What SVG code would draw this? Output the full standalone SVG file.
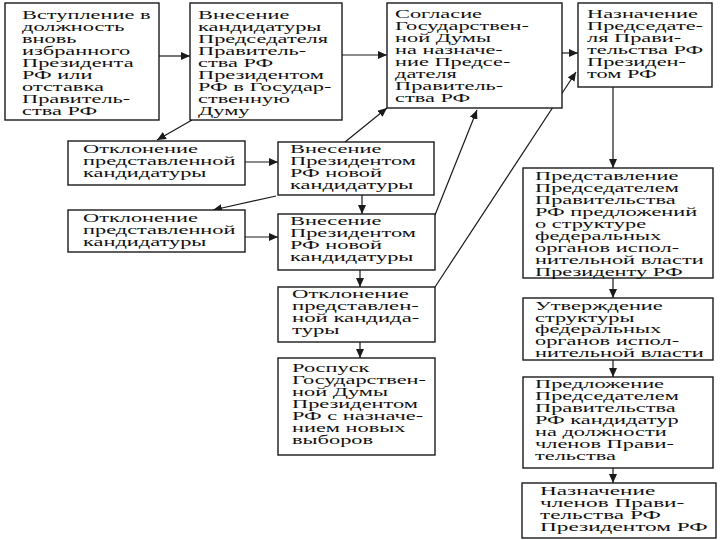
<svg xmlns="http://www.w3.org/2000/svg" width="720" height="540" viewBox="0 0 720 540">
<style>
.box{fill:#fff;stroke:#1a1a1a;stroke-width:1.4}
.t{font-family:"Liberation Serif","Times New Roman",serif;font-size:12.5px;fill:#111}
.c{stroke:#1a1a1a;stroke-width:1.2;fill:none;marker-end:url(#ah)}
</style>
<defs>
<marker id="ah" markerUnits="userSpaceOnUse" markerWidth="10" markerHeight="8" refX="9" refY="4" orient="auto">
<path d="M0,0 L9,4 L0,8 Z" fill="#1a1a1a"/>
</marker>
</defs>
<rect width="720" height="540" fill="#fff"/>
<g id="connectors">
<line class="c" x1="159" y1="56" x2="190" y2="56"/>
<line class="c" x1="342" y1="55" x2="387" y2="55"/>
<line class="c" x1="562" y1="53" x2="578" y2="53"/>
<line class="c" x1="613" y1="87" x2="613" y2="168"/>
<line class="c" x1="613" y1="278" x2="613" y2="298"/>
<line class="c" x1="613" y1="360" x2="613" y2="377"/>
<line class="c" x1="613" y1="468" x2="613" y2="483"/>
<line class="c" x1="192" y1="120" x2="157" y2="140"/>
<line class="c" x1="245" y1="162" x2="278" y2="162"/>
<line class="c" x1="345" y1="142" x2="387" y2="108"/>
<line class="c" x1="276" y1="196" x2="213" y2="210"/>
<line class="c" x1="362" y1="195" x2="362" y2="214"/>
<line class="c" x1="245" y1="237" x2="278" y2="237"/>
<line class="c" x1="435" y1="215" x2="477" y2="110"/>
<line class="c" x1="360" y1="270" x2="360" y2="287"/>
<line class="c" x1="435" y1="287" x2="576" y2="72"/>
<line class="c" x1="360" y1="342" x2="360" y2="358"/>
</g>
<g id="n1"><rect class="box" x="5" y="3" width="154" height="117"/>
<text class="t" transform="translate(22,18.5) scale(1.79,1)"><tspan x="0" y="0">Вступление в</tspan><tspan x="0" y="12.1">должность</tspan><tspan x="0" y="24.2">вновь</tspan><tspan x="0" y="36.3">избранного</tspan><tspan x="0" y="48.4">Президента</tspan><tspan x="0" y="60.5">РФ или</tspan><tspan x="0" y="72.6">отставка</tspan><tspan x="0" y="84.7">Правитель-</tspan><tspan x="0" y="96.8">ства РФ</tspan></text></g>
<g id="n2"><rect class="box" x="190" y="3" width="152" height="117"/>
<text class="t" transform="translate(198,18.5) scale(1.79,1)"><tspan x="0" y="0">Внесение</tspan><tspan x="0" y="12.1">кандидатуры</tspan><tspan x="0" y="24.2">Председателя</tspan><tspan x="0" y="36.3">Правитель-</tspan><tspan x="0" y="48.4">ства РФ</tspan><tspan x="0" y="60.5">Президентом</tspan><tspan x="0" y="72.6">РФ в Государ-</tspan><tspan x="0" y="84.7">ственную</tspan><tspan x="0" y="96.8">Думу</tspan></text></g>
<g id="n3"><rect class="box" x="387" y="3" width="175" height="105"/>
<text class="t" transform="translate(395,18) scale(1.79,1)"><tspan x="0" y="0">Согласие</tspan><tspan x="0" y="12">Государствен-</tspan><tspan x="0" y="24">ной Думы</tspan><tspan x="0" y="36">на назначе-</tspan><tspan x="0" y="48">ние Предсе-</tspan><tspan x="0" y="60">дателя</tspan><tspan x="0" y="72">Правитель-</tspan><tspan x="0" y="84">ства РФ</tspan></text></g>
<g id="n4"><rect class="box" x="578" y="3" width="134" height="84"/>
<text class="t" transform="translate(587,18) scale(1.79,1)"><tspan x="0" y="0">Назначение</tspan><tspan x="0" y="12">Председате-</tspan><tspan x="0" y="24">ля Прави-</tspan><tspan x="0" y="36">тельства РФ</tspan><tspan x="0" y="48">Президен-</tspan><tspan x="0" y="60">том РФ</tspan></text></g>
<g id="n5"><rect class="box" x="68" y="141" width="177" height="44"/>
<text class="t" transform="translate(83,153) scale(1.79,1)"><tspan x="0" y="0">Отклонение</tspan><tspan x="0" y="12">представленной</tspan><tspan x="0" y="24">кандидатуры</tspan></text></g>
<g id="n6"><rect class="box" x="278" y="142" width="156" height="53"/>
<text class="t" transform="translate(290,153) scale(1.79,1)"><tspan x="0" y="0">Внесение</tspan><tspan x="0" y="12">Президентом</tspan><tspan x="0" y="24">РФ новой</tspan><tspan x="0" y="36">кандидатуры</tspan></text></g>
<g id="n7"><rect class="box" x="68" y="210" width="177" height="42"/>
<text class="t" transform="translate(83,222) scale(1.79,1)"><tspan x="0" y="0">Отклонение</tspan><tspan x="0" y="12">представленной</tspan><tspan x="0" y="24">кандидатуры</tspan></text></g>
<g id="n8"><rect class="box" x="278" y="214" width="157" height="56"/>
<text class="t" transform="translate(290,225) scale(1.79,1)"><tspan x="0" y="0">Внесение</tspan><tspan x="0" y="12">Президентом</tspan><tspan x="0" y="24">РФ новой</tspan><tspan x="0" y="36">кандидатуры</tspan></text></g>
<g id="n9"><rect class="box" x="278" y="287" width="157" height="55"/>
<text class="t" transform="translate(292,298) scale(1.82,1)"><tspan x="0" y="0">Отклонение</tspan><tspan x="0" y="12">представлен-</tspan><tspan x="0" y="24">ной кандида-</tspan><tspan x="0" y="36">туры</tspan></text></g>
<g id="n10"><rect class="box" x="278" y="358" width="157" height="97"/>
<text class="t" transform="translate(292,372) scale(1.79,1)"><tspan x="0" y="0">Роспуск</tspan><tspan x="0" y="12">Государствен-</tspan><tspan x="0" y="24">ной Думы</tspan><tspan x="0" y="36">Президентом</tspan><tspan x="0" y="48">РФ с назначе-</tspan><tspan x="0" y="60">нием новых</tspan><tspan x="0" y="72">выборов</tspan></text></g>
<g id="n11"><rect class="box" x="523" y="168" width="190" height="110"/>
<text class="t" transform="translate(535,180) scale(1.79,1)"><tspan x="0" y="0">Представление</tspan><tspan x="0" y="12">Председателем</tspan><tspan x="0" y="24">Правительства</tspan><tspan x="0" y="36">РФ предложений</tspan><tspan x="0" y="48">о структуре</tspan><tspan x="0" y="60">федеральных</tspan><tspan x="0" y="72">органов испол-</tspan><tspan x="0" y="84">нительной власти</tspan><tspan x="0" y="96">Президенту РФ</tspan></text></g>
<g id="n12"><rect class="box" x="523" y="298" width="190" height="62"/>
<text class="t" transform="translate(535,310) scale(1.79,1)"><tspan x="0" y="0">Утверждение</tspan><tspan x="0" y="11.7">структуры</tspan><tspan x="0" y="23.4">федеральных</tspan><tspan x="0" y="35.1">органов испол-</tspan><tspan x="0" y="46.8">нительной власти</tspan></text></g>
<g id="n13"><rect class="box" x="523" y="377" width="190" height="91"/>
<text class="t" transform="translate(535,388) scale(1.79,1)"><tspan x="0" y="0">Предложение</tspan><tspan x="0" y="12">Председателем</tspan><tspan x="0" y="24">Правительства</tspan><tspan x="0" y="36">РФ кандидатур</tspan><tspan x="0" y="48">на должности</tspan><tspan x="0" y="60">членов Прави-</tspan><tspan x="0" y="72">тельства</tspan></text></g>
<g id="n14"><rect class="box" x="522" y="483" width="194" height="55"/>
<text class="t" transform="translate(540,495) scale(1.86,1)"><tspan x="0" y="0">Назначение</tspan><tspan x="0" y="12">членов Прави-</tspan><tspan x="0" y="24">тельства РФ</tspan><tspan x="0" y="36">Президентом РФ</tspan></text></g>
</svg>
